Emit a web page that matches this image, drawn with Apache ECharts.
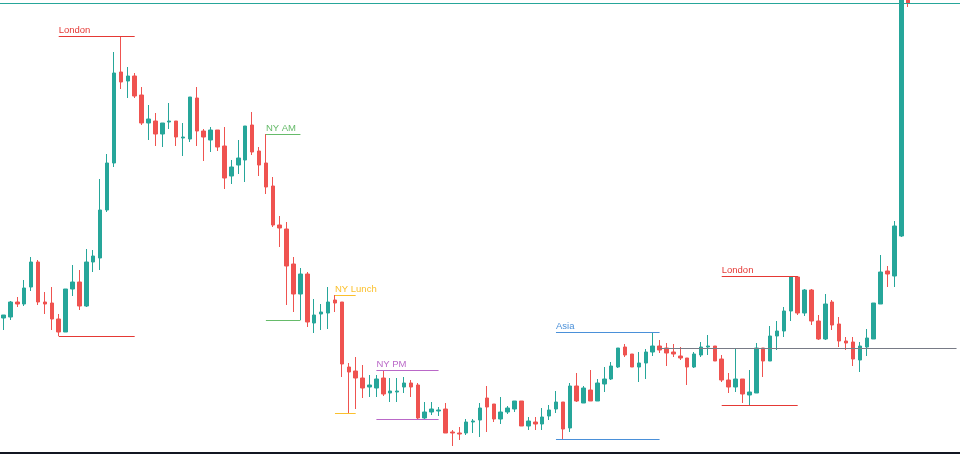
<!DOCTYPE html>
<html>
<head>
<meta charset="utf-8">
<title>Session candles</title>
<script src="https://cdn.jsdelivr.net/npm/echarts@6/dist/echarts.min.js"></script>
<style>
  html, body { margin: 0; padding: 0; background: #fff; }
  #chart { width: 960px; height: 455px; }
</style>
</head>
<body>
<div id="chart"></div>
<script>
// candle prices (price points)
const opens = [
  135,136,151,149,166,191,151,150,134,121,164,171,147,191,195,243,290,381,372,377,
  358,330,332,319,331,332,315,314,355,322,313,323,307,277,288,293,328,302,290,267,
  228,224,189,159,179,130,139,140,153,151,86,82,75,66,65,75,60,61,66,70,
  68,35,41,42,44,21,20,20,31,33,55,49,34,41,44,52,27,31,29,37,
  44,51,25,67,50,63,52,69,74,86,106,99,86,90,101,107,105,101,97,95,
  86,98,106,107,94,73,66,74,58,60,105,92,117,122,142,176,140,163,132,114,
  151,129,112,111,93,106,114,149,182,177,217,453
];
const closes = [
  138,151,149,165,191,151,149,134,121,164,171,147,191,197,243,290,380,371,377,357,
  330,334,319,330,332,316,316,356,322,316,323,306,275,286,295,327,301,288,266,228,
  225,187,159,179,131,138,141,151,150,89,81,75,65,68,74,59,62,62,70,66,
  35,41,44,43,20,20,19,31,32,45,46,34,41,45,52,27,32,29,36,43,
  51,24,67,52,65,52,70,74,87,105,98,86,90,101,107,103,100,99,95,86,
  99,106,107,92,73,66,74,59,61,105,92,117,122,142,176,140,163,132,114,149,
  128,112,110,94,107,115,150,181,179,227,453,450
];
const lows = [
  123,133,146,147,162,148,139,123,117,121,157,143,146,181,183,241,286,364,355,355,
  328,313,307,306,324,307,297,311,307,292,301,302,264,269,279,271,298,277,259,226,
  206,148,141,133,126,120,123,124,141,76,40,44,55,56,56,57,51,51,60,56,
  34,34,38,37,20,7,13,18,20,16,21,31,29,39,41,27,23,23,23,33,
  40,14,21,51,50,52,52,61,73,85,96,86,71,74,97,100,87,96,93,68,
  85,96,98,92,71,60,61,50,48,60,76,92,103,116,132,138,137,128,113,113,
  123,106,103,87,81,97,114,149,166,166,216,446
];
const highs = [
  138,152,156,173,196,193,161,166,139,164,188,183,204,203,274,299,401,417,386,380,
  366,348,340,330,350,332,330,356,366,324,326,323,326,293,313,327,341,306,319,276,
  237,231,196,185,181,154,149,166,158,151,90,96,88,78,78,83,75,75,76,73,
  70,51,51,46,50,23,26,34,34,50,67,49,56,47,52,52,36,36,45,48,
  62,51,70,80,67,83,74,86,91,105,109,99,101,104,121,113,110,109,106,95,
  101,111,118,107,98,80,105,74,83,110,105,127,132,146,177,177,164,164,138,159,
  153,136,116,116,111,124,150,198,187,232,458,458
];
const emptyBars = 7;   // free space on the right

// sessions: first and last bar of each
const sessionNames = ['London', 'NY AM', 'NY Lunch', 'NY PM', 'Asia', 'London'];
const sessionStart = [8, 38, 48, 54, 80, 104];
const sessionEnd   = [19, 43, 51, 63, 95, 115];

const lastPrice = 450;
const asiaLevel = 105;     // grey level carried on after the Asia session
const asiaLevelFrom = 95;

const UP = '#26a69a', DOWN = '#ef5350';
const sessionColors = {
  'London': '#e53935',
  'NY AM': '#66bb6a',
  'NY Lunch': '#fbc02d',
  'NY PM': '#ba68c8',
  'Asia': '#4a90d9'
};

const categories = [];
for (let i = 0; i < opens.length + emptyBars; i++) categories.push(String(i + 1));

const candles = opens.map((o, i) => [o, closes[i], lows[i], highs[i]]);

const lines = [];
sessionNames.forEach((name, k) => {
  const s = sessionStart[k], e = sessionEnd[k];
  const hi = Math.max(...highs.slice(s, e + 1));
  const lo = Math.min(...lows.slice(s, e + 1));
  const color = sessionColors[name];
  lines.push([
    {
      coord: [s, hi],
      lineStyle: { color: color, width: 1, type: 'solid' },
      label: {
        show: true, formatter: name, position: 'insideStartTop', distance: [0, 1],
        color: color, fontSize: 9.5, fontFamily: 'Liberation Sans'
      }
    },
    { coord: [e, hi] }
  ]);
  lines.push([
    { coord: [s, lo], lineStyle: { color: color, width: 1, type: 'solid' }, label: { show: false } },
    { coord: [e, lo] }
  ]);
});
lines.push([
  { coord: [asiaLevelFrom, asiaLevel], lineStyle: { color: '#787b86', width: 1, type: 'solid' }, label: { show: false } },
  { coord: [categories.length - 1, asiaLevel] }
]);
lines.push({ yAxis: lastPrice, lineStyle: { color: '#26a69a', width: 1, type: 'solid' }, label: { show: false } });

const chart = echarts.init(document.getElementById('chart'));
chart.setOption({
  animation: false,
  backgroundColor: '#ffffff',
  grid: { left: 0, right: 0, top: 0, bottom: 2 },
  xAxis: {
    type: 'category',
    data: categories,
    axisLine: { show: true, lineStyle: { color: '#131722', width: 2 } },
    axisTick: { show: false },
    axisLabel: { show: false },
    splitLine: { show: false }
  },
  yAxis: {
    type: 'value',
    min: 0,
    max: 453,
    show: false,
    splitLine: { show: false }
  },
  series: [{
    type: 'candlestick',
    data: candles,
    barWidth: 4,
    clip: true,
    itemStyle: {
      color: UP, color0: DOWN,
      borderColor: UP, borderColor0: DOWN,
      borderWidth: 1
    },
    markLine: {
      silent: true,
      symbol: ['none', 'none'],
      animation: false,
      data: lines
    }
  }]
});
</script>
</body>
</html>
